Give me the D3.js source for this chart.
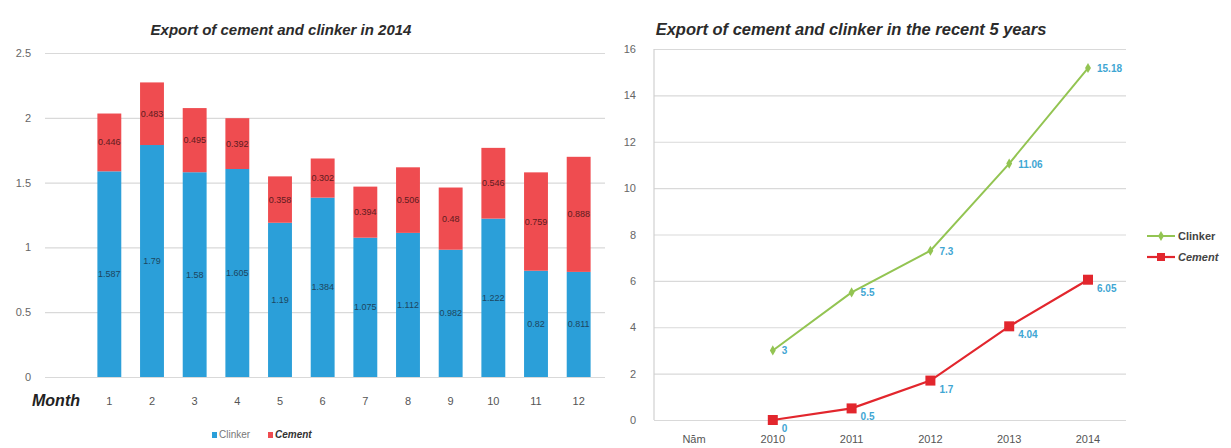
<!DOCTYPE html>
<html>
<head>
<meta charset="utf-8">
<script src="https://cdn.jsdelivr.net/npm/d3@7/dist/d3.min.js"></script>
<style>
  body { margin: 0; background: #fff; }
  svg { display: block; font-family: "Liberation Sans", Arial, sans-serif; }
</style>
</head>
<body>
<svg id="chart" width="1231" height="448"></svg>
<script>
// ---- Data: left chart (2014 monthly) ----
const months = ["1","2","3","4","5","6","7","8","9","10","11","12"];
const clinker2014 = [1.587, 1.79, 1.58, 1.605, 1.19, 1.384, 1.075, 1.112, 0.982, 1.222, 0.82, 0.811];
const cement2014  = [0.446, 0.483, 0.495, 0.392, 0.358, 0.302, 0.394, 0.506, 0.48, 0.546, 0.759, 0.888];
const leftTicks = [0, 0.5, 1, 1.5, 2, 2.5];

// ---- Data: right chart (recent 5 years) ----
const yearCats = ["Năm", "2010", "2011", "2012", "2013", "2014"];
const years = ["2010", "2011", "2012", "2013", "2014"];
const clinkerYears = [3, 5.5, 7.3, 11.06, 15.18];
const cementYears  = [0, 0.5, 1.7, 4.04, 6.05];
const rightTicks = [0, 2, 4, 6, 8, 10, 12, 14, 16];

const BLUE = "#2b9fd9", RED = "#ef4c50", GREEN = "#93c452", LRED = "#e2262d", LABEL = "#3fa6d3";
const svg = d3.select("#chart");

// ================= LEFT CHART =================
(function(){
  const x = d3.scaleBand().domain(months).range([88, 600]).paddingInner(0.44).paddingOuter(0.22);
  const y = d3.scaleLinear().domain([0, 2.5]).range([377, 53]);
  const g = svg.append("g");

  const yAxis = d3.axisLeft(y).tickValues(leftTicks).tickSize(-(605 - 45)).tickFormat(d3.format("~g")).tickPadding(14);
  const ga = g.append("g").attr("transform", "translate(45,0)").call(yAxis);
  ga.select(".domain").remove();
  ga.selectAll(".tick line").attr("stroke", "#d9d9d9").attr("stroke-width", 1.2);
  ga.selectAll(".tick text").attr("fill", "#666").attr("font-size", 11);

  const rows = months.map((m, i) => ({m, c: clinker2014[i], e: cement2014[i]}));
  g.selectAll("rect.cl").data(rows).join("rect")
    .attr("x", d => x(d.m)).attr("width", x.bandwidth())
    .attr("y", d => y(d.c)).attr("height", d => y(0) - y(d.c)).attr("fill", BLUE);
  g.selectAll("rect.ce").data(rows).join("rect")
    .attr("x", d => x(d.m)).attr("width", x.bandwidth())
    .attr("y", d => y(d.c + d.e)).attr("height", d => y(d.c) - y(d.c + d.e)).attr("fill", RED);

  const fmt = v => String(v);
  g.selectAll("text.lc").data(rows).join("text")
    .attr("x", d => x(d.m) + x.bandwidth()/2).attr("y", d => (y(0) + y(d.c))/2 + 3)
    .attr("text-anchor", "middle").attr("font-size", 9).attr("fill", "#1d4660").text(d => fmt(d.c));
  g.selectAll("text.le").data(rows).join("text")
    .attr("x", d => x(d.m) + x.bandwidth()/2).attr("y", d => (y(d.c) + y(d.c + d.e))/2 + 3)
    .attr("text-anchor", "middle").attr("font-size", 9).attr("fill", "#5e1b1e").text(d => fmt(d.e));

  g.selectAll("text.xl").data(months).join("text")
    .attr("x", d => x(d) + x.bandwidth()/2).attr("y", 405)
    .attr("text-anchor", "middle").attr("font-size", 11).attr("fill", "#555").text(d => d);
  g.append("text").attr("x", 80).attr("y", 406).attr("text-anchor", "end")
    .attr("font-size", 16).attr("font-weight", "bold").attr("font-style", "italic").attr("fill", "#222").text("Month");

  g.append("text").attr("x", 281).attr("y", 35).attr("text-anchor", "middle")
    .attr("font-size", 15).attr("font-weight", "bold").attr("font-style", "italic").attr("fill", "#2b2b2b")
    .text("Export of cement and clinker in 2014");

  const lg = g.append("g").attr("transform", "translate(212,438)");
  lg.append("rect").attr("x", 0).attr("y", -6).attr("width", 5).attr("height", 6).attr("fill", BLUE);
  lg.append("text").attr("x", 7).attr("y", 0).attr("font-size", 10).attr("fill", "#777").text("Clinker");
  lg.append("rect").attr("x", 56).attr("y", -6).attr("width", 5).attr("height", 6).attr("fill", RED);
  lg.append("text").attr("x", 63).attr("y", 0).attr("font-size", 10).attr("font-weight", "bold")
    .attr("font-style", "italic").attr("fill", "#333").text("Cement");
})();

// ================= RIGHT CHART =================
(function(){
  const x = d3.scalePoint().domain(yearCats).range([694, 1088]);
  const y = d3.scaleLinear().domain([0, 16]).range([420, 49]);
  const g = svg.append("g");

  const yAxis = d3.axisLeft(y).tickValues(rightTicks).tickSize(-(1126 - 654)).tickPadding(18);
  const ga = g.append("g").attr("transform", "translate(654,0)").call(yAxis);
  ga.select(".domain").remove();
  ga.selectAll(".tick line").attr("stroke", "#d9d9d9").attr("stroke-width", 1.2);
  ga.selectAll(".tick text").attr("fill", "#666").attr("font-size", 11);
  g.append("line").attr("x1", 654).attr("x2", 654).attr("y1", y(16)).attr("y2", y(0))
    .attr("stroke", "#d0d0d0").attr("stroke-width", 1.2);

  g.selectAll("text.xl").data(yearCats).join("text")
    .attr("x", d => x(d)).attr("y", 443).attr("text-anchor", "middle")
    .attr("font-size", 11).attr("fill", "#555").text(d => d);

  const line = d3.line().x(d => x(d.k)).y(d => y(d.v));
  const cl = years.map((k, i) => ({k, v: clinkerYears[i]}));
  const ce = years.map((k, i) => ({k, v: cementYears[i]}));

  g.append("path").datum(cl).attr("d", line).attr("fill", "none").attr("stroke", GREEN).attr("stroke-width", 2);
  g.selectAll("path.dm").data(cl).join("path")
    .attr("d", d3.symbol(d3.symbolDiamond, 30))
    .attr("transform", d => `translate(${x(d.k)},${y(d.v)})`).attr("fill", GREEN);
  g.append("path").datum(ce).attr("d", line).attr("fill", "none").attr("stroke", LRED).attr("stroke-width", 2.2);
  g.selectAll("rect.sq").data(ce).join("rect")
    .attr("x", d => x(d.k) - 5).attr("y", d => y(d.v) - 5).attr("width", 10).attr("height", 10).attr("fill", LRED);

  g.selectAll("text.lcl").data(cl).join("text")
    .attr("x", d => x(d.k) + 9).attr("y", d => y(d.v) + 4)
    .attr("font-size", 10).attr("font-weight", "bold").attr("fill", LABEL).text(d => String(d.v));
  g.selectAll("text.lce").data(ce).join("text")
    .attr("x", d => x(d.k) + 9).attr("y", d => y(d.v) + 12)
    .attr("font-size", 10).attr("font-weight", "bold").attr("fill", LABEL).text(d => String(d.v));

  g.append("text").attr("x", 851).attr("y", 35).attr("text-anchor", "middle")
    .attr("font-size", 16.5).attr("font-weight", "bold").attr("font-style", "italic").attr("fill", "#2b2b2b")
    .text("Export of cement and clinker in the recent 5 years");

  const lg = g.append("g").attr("transform", "translate(1147,236)");
  lg.append("line").attr("x1", 0).attr("x2", 28).attr("y1", 0).attr("y2", 0).attr("stroke", GREEN).attr("stroke-width", 2);
  lg.append("path").attr("d", d3.symbol(d3.symbolDiamond, 30)).attr("transform", "translate(14,0)").attr("fill", GREEN);
  lg.append("text").attr("x", 31).attr("y", 4).attr("font-size", 11).attr("font-weight", "bold").attr("fill", "#444").text("Clinker");
  lg.append("line").attr("x1", 0).attr("x2", 28).attr("y1", 21).attr("y2", 21).attr("stroke", LRED).attr("stroke-width", 2.2);
  lg.append("rect").attr("x", 10).attr("y", 17).attr("width", 8).attr("height", 8).attr("fill", LRED);
  lg.append("text").attr("x", 31).attr("y", 25).attr("font-size", 11).attr("font-weight", "bold")
    .attr("font-style", "italic").attr("fill", "#444").text("Cement");
})();
</script>
</body>
</html>
